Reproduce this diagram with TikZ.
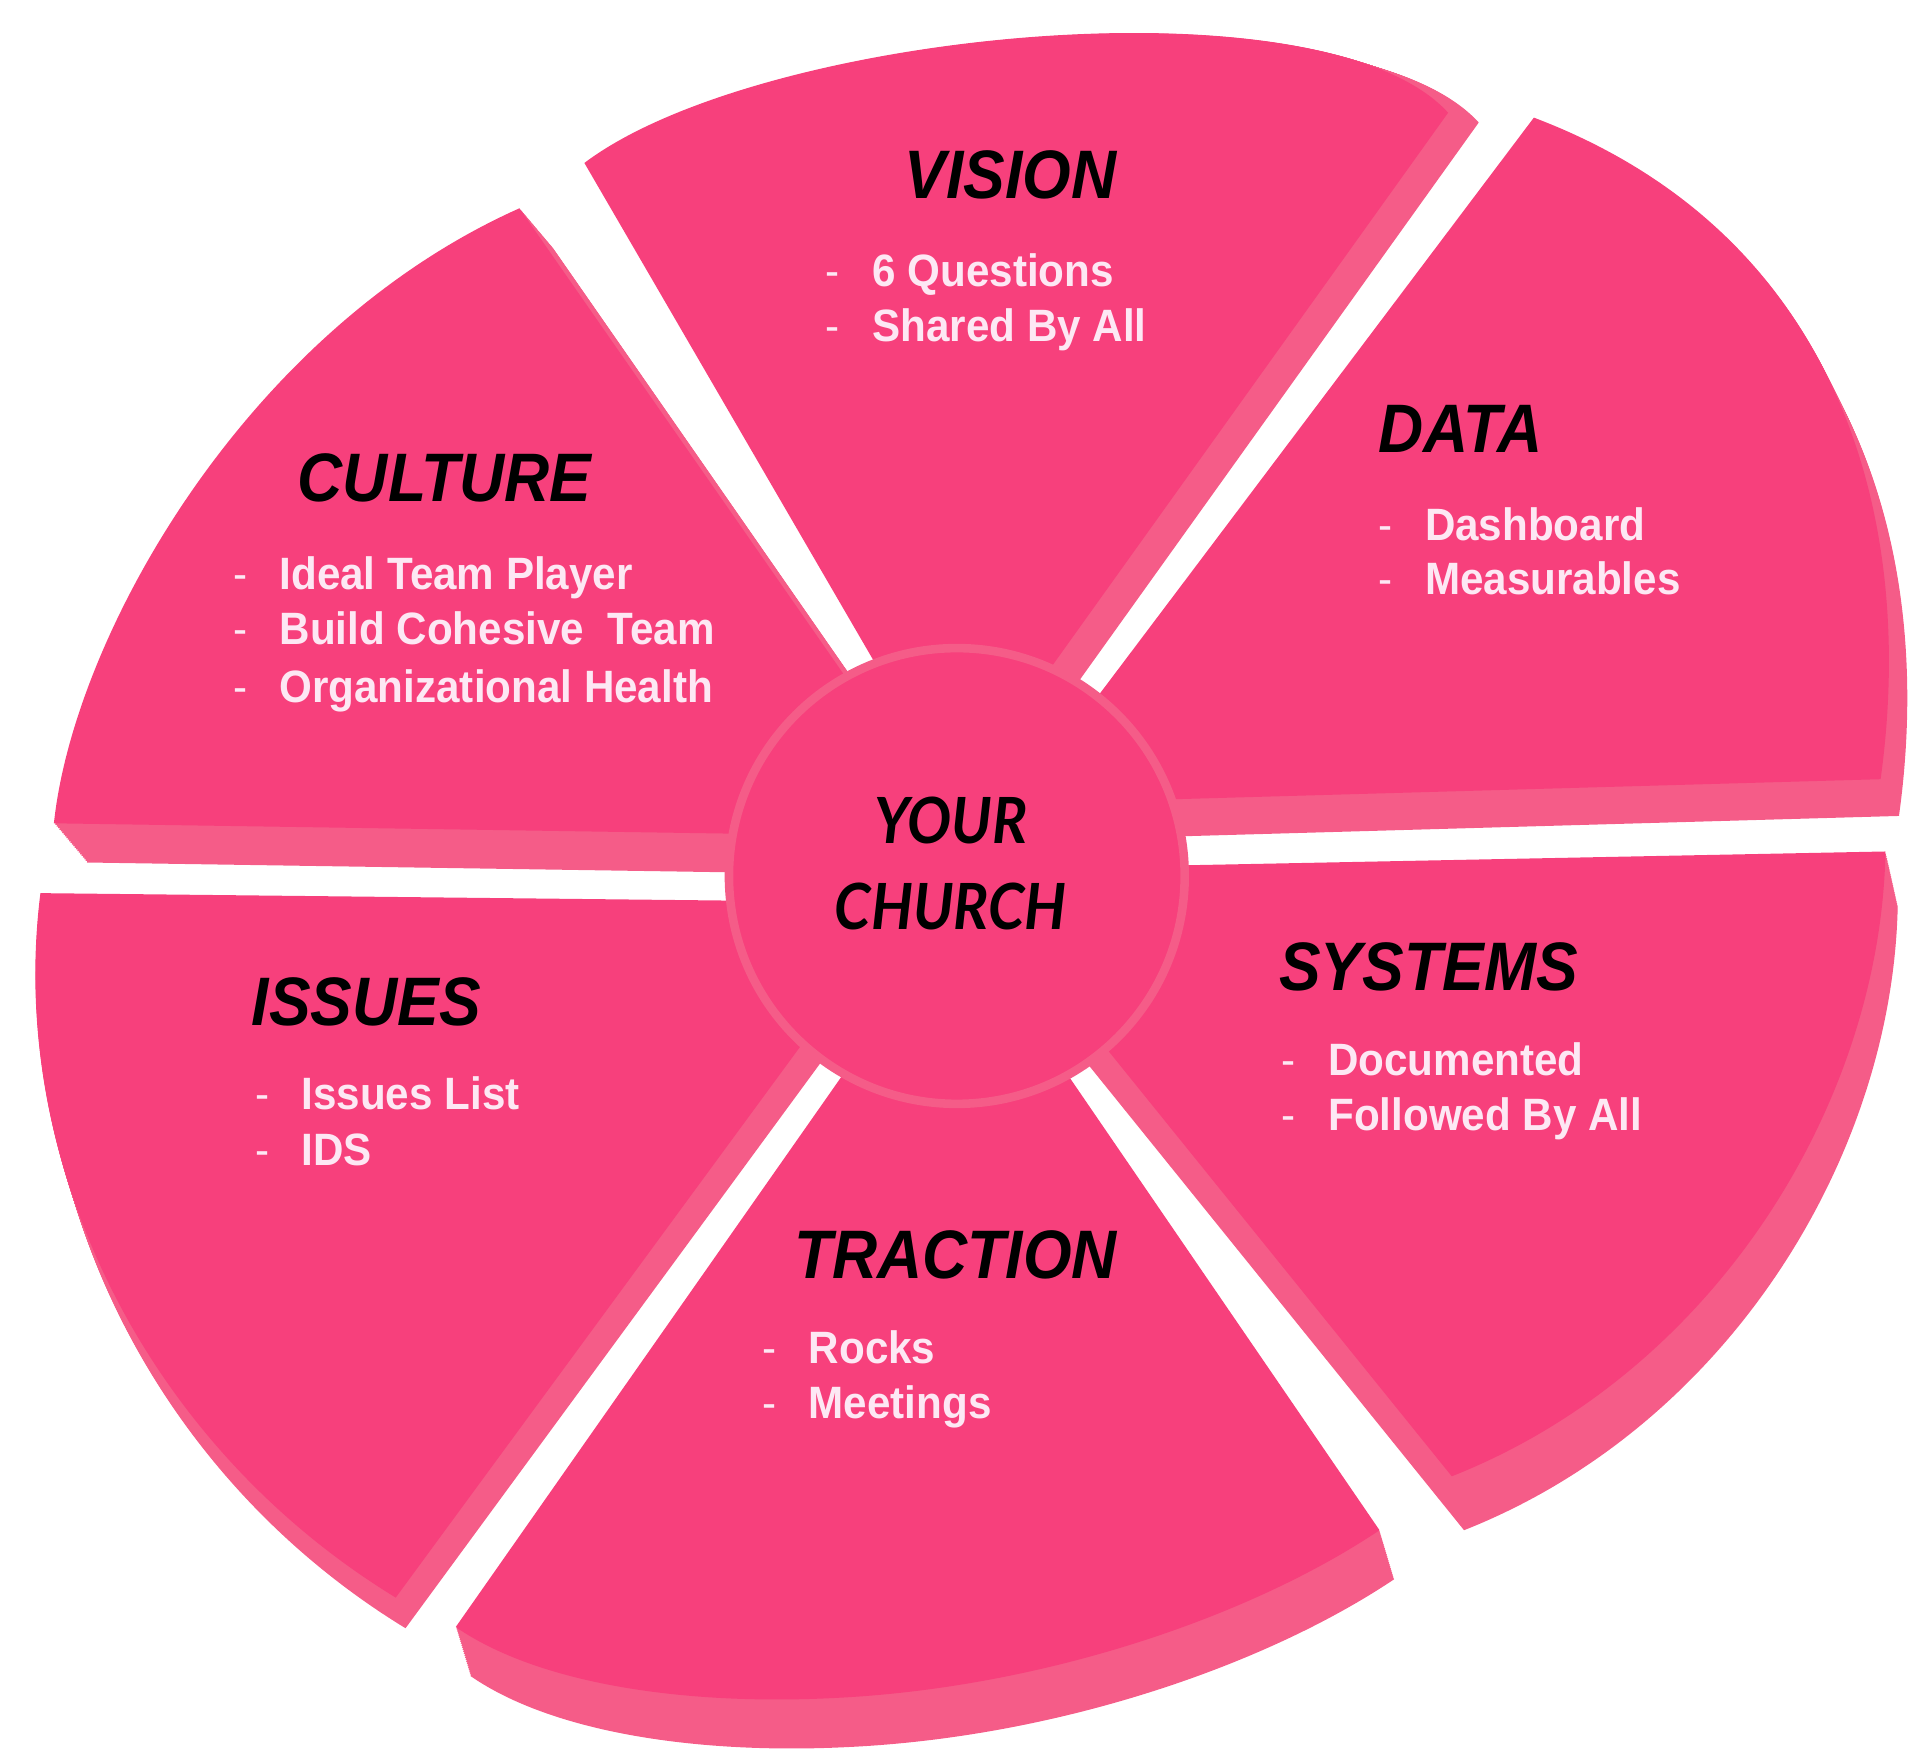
\documentclass[tikz,border=0pt]{standalone}
\usepackage{fontspec}
\newfontfamily\headfont{Liberation Sans}[FakeStretch=0.91]
\newfontfamily\itemfont{Liberation Sans}[FakeStretch=0.93]
\newfontfamily\centerfont{Lato}[FakeStretch=0.92]
\definecolor{mainpink}{RGB}{247,64,124}
\definecolor{sidepink}{RGB}{245,92,136}
\definecolor{itemcol}{RGB}{253,232,244}
\tikzset{
  face/.style={fill=mainpink},
  side/.style={fill=sidepink},
  head/.style={inner sep=0pt, font=\headfont\bfseries\itshape\fontsize{56}{60}\selectfont, text=black},
  item/.style={inner sep=0pt, anchor=base west, font=\itemfont\bfseries\fontsize{37}{40}\selectfont, text=itemcol},
  hub/.style={inner sep=0pt, font=\centerfont\bfseries\itshape\fontsize{52}{56}\selectfont, text=black},
  hubdisc/.style={circle, inner sep=0pt, minimum size=372pt, fill=mainpink, draw=sidepink, line width=7pt},
}
\newcommand{\dashitem}[1]{\makebox[38pt][l]{\mdseries-}#1}
\newcommand{\extrude}[3]{\foreach \n in {1,...,24}{\fill[side, shift={(\n*#1/24,\n*#2/24)}] #3;}}
\newcommand{\vispath}{(760,620) -- (477,133) .. controls (620,25) and (1080,-20) .. (1182,92) -- (804,620) -- cycle}
\newcommand{\culpath}{(700,682) -- (44,672) .. controls (60,520) and (200,270) .. (424,170) -- (751,640) -- cycle}
\newcommand{\isspath}{(680,736) -- (33,729) .. controls (5,950) and (120,1180) .. (323,1304) -- (693,800) -- cycle}
\newcommand{\trapath}{(819,800) -- (872,878) -- (1126,1249) .. controls (1020,1320) and (850,1378) .. (680,1386) .. controls (560,1392) and (440,1375) .. (372,1328) -- (679,890) -- (742,800) -- cycle}
\newcommand{\syspath}{(880,708) -- (1539,695) .. controls (1535,900) and (1400,1120) .. (1185,1205) -- (850,790) -- cycle}
\newcommand{\datpath}{(830,656) -- (1252,96) .. controls (1500,190) and (1565,420) .. (1535,636) -- cycle}
\begin{document}
\begin{tikzpicture}[x=1pt,y=-1pt]
\useasboundingbox (0,0) rectangle (1568,1428);
% sides (extrusion)
\extrude{25}{8}{\vispath}
\extrude{27}{32}{\culpath}
\extrude{8}{25}{\isspath}
\extrude{12}{40}{\trapath}
\extrude{10}{44}{\syspath}
\extrude{15}{30}{\datpath}
% faces
\fill[face] \vispath;
\fill[face] \culpath;
\fill[face] \isspath;
\fill[face] \trapath;
\fill[face] \syspath;
\fill[face] \datpath;
% hub
\node[hubdisc] (hub) at (781,715) {};
\node[hub] (your) at (776,670) {YOUR};
\node[hub] (church) at (776,740) {CHURCH};
% headings
\node[head] (vision) at (825,143) {VISION};
\node[head] (culture) at (363,390) {CULTURE};
\node[head] (data) at (1192,350) {DATA};
\node[head] (systems) at (1166,789) {SYSTEMS};
\node[head] (traction) at (780,1024) {TRACTION};
\node[head] (issues) at (299,818) {ISSUES};
% items
\node[item] (v1) at (674,234) {\dashitem{6 Questions}};
\node[item] (v2) at (674,279) {\dashitem{Shared By All}};
\node[item] (c1) at (190,481) {\dashitem{Ideal Team Player}};
\node[item] (c2) at (190,526) {\dashitem{Build Cohesive\ \ Team}};
\node[item] (c3) at (190,573) {\dashitem{Organizational Health}};
\node[item] (d1) at (1125,441) {\dashitem{Dashboard}};
\node[item] (d2) at (1125,485) {\dashitem{Measurables}};
\node[item] (s1) at (1046,878) {\dashitem{Documented}};
\node[item] (s2) at (1046,923) {\dashitem{Followed By All}};
\node[item] (t1) at (622,1113) {\dashitem{Rocks}};
\node[item] (t2) at (622,1158) {\dashitem{Meetings}};
\node[item] (i1) at (208,906) {\dashitem{Issues List}};
\node[item] (i2) at (208,951) {\dashitem{IDS}};
\end{tikzpicture}
\end{document}
